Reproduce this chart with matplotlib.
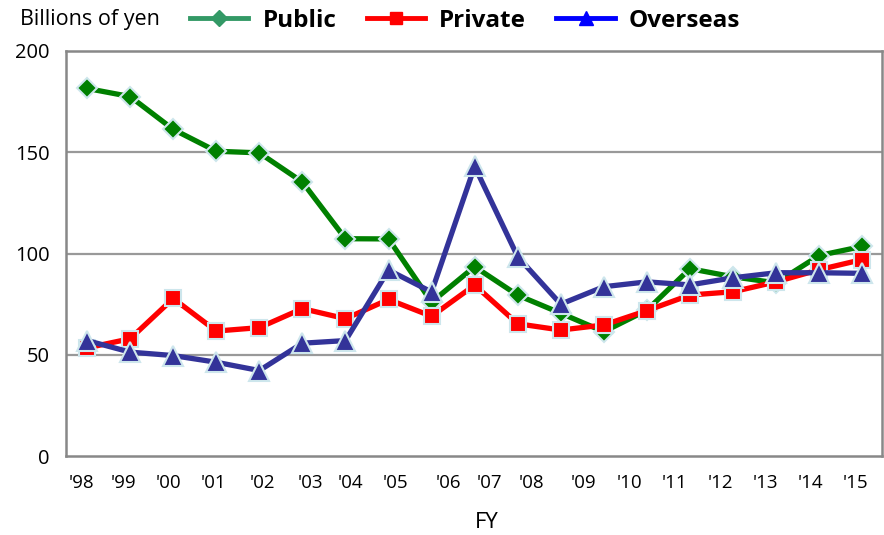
import numpy as np
import matplotlib
matplotlib.use('Agg')
import matplotlib.pyplot as plt
from matplotlib.lines import Line2D

plt.rcParams['font.family'] = ['Open Sans', 'DejaVu Sans']

years = ["'98", "'99", "'00", "'01", "'02", "'03", "'04", "'05", "'06", "'07",
         "'08", "'09", "'10", "'11", "'12", "'13", "'14", "'15"]
public = [181.5, 177.5, 161.3, 150.5, 149.7, 135.3, 107.3, 107.2, 76, 93.5,
          79.4, 70.5, 61.4, 72, 92.5, 88.5, 85.5, 99, 103.5]
private = [53.4, 57.9, 77.8, 61.7, 63.4, 72.8, 67.8, 77.3, 69, 84.4,
           65.3, 62.2, 64.7, 71.8, 79.5, 81.1, 86, 92, 97]
overseas = [57, 51.3, 49.6, 46.3, 42.2, 55.7, 57, 91.8, 81, 143,
            98.4, 75, 83.6, 86, 84.5, 88, 90.5, 90.5, 90.2]

# label positions as they sit under the points in the original
tick_pos = [-0.12, 0.84, 1.88, 2.93, 4.06, 5.18, 6.11, 7.15, 8.38, 9.34,
            10.33, 11.52, 12.59, 13.63, 14.70, 15.75, 16.79, 17.84]

edge = '#cde6ec'
fig = plt.figure(figsize=(8.84, 5.35), dpi=100)
ax = fig.add_axes([66/884, 79/535, 816/884, 405/535])

x = np.arange(len(public))
ax.plot(x, public, color='#008000', lw=3.8, marker='D', ms=10,
        mfc='#008000', mec=edge, mew=1.5, zorder=3)
ax.plot(x, private, color='#ff0000', lw=3.8, marker='s', ms=12,
        mfc='#ff0000', mec=edge, mew=1.5, zorder=4)
ax.plot(x, overseas, color='#333399', lw=3.8, marker='^', ms=14.5,
        mfc='#333399', mec=edge, mew=1.5, zorder=5)

ax.set_xlim(-0.49, 18.46)
ax.set_ylim(0, 200)
ax.set_yticks([0, 50, 100, 150, 200])
ax.set_xticks(tick_pos)
ax.set_xticklabels(years)
ax.tick_params(axis='both', length=0, colors='black')
ax.tick_params(axis='y', pad=12, labelsize=14.5)
ax.tick_params(axis='x', pad=13, labelsize=13.5)
for v in [50, 100, 150]:
  ax.axhline(v, color='#999999', lw=1.6, zorder=1)
for s in ax.spines.values():
  s.set_color('#888888')
  s.set_linewidth(1.8)

fig.text(487/884, 1-522/535, 'FY', fontsize=16, ha='center', va='center')
fig.text(20/884, 1-20/535, 'Billions of yen', fontsize=15.5, va='center', ha='left')

handles = [
  Line2D([], [], color='#339966', lw=3.5, marker='D', ms=8, mec='#339966'),
  Line2D([], [], color='#ff0000', lw=3.5, marker='s', ms=9, mec='#ff0000'),
  Line2D([], [], color='#0000ff', lw=3.5, marker='^', ms=10, mec='#0000ff'),
]
fig.legend(handles, ['Public', 'Private', 'Overseas'], loc='center left',
           bbox_to_anchor=(190/884, 1-21/535), ncol=3, frameon=False,
           handlelength=2.4, handletextpad=0.58, columnspacing=1.25,
           prop={'weight': 'bold', 'size': 17.5}, borderpad=0, borderaxespad=0)

plt.savefig('out.png', dpi=100)
